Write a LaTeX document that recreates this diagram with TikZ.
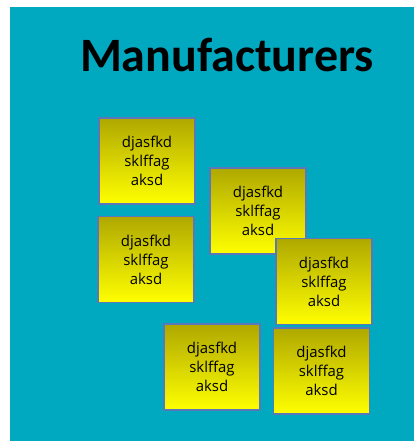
\documentclass[tikz,border=0pt]{standalone}
\usepackage{fontspec}
\setmainfont{Carlito}
\newfontfamily\notefont{Open Sans}
\usetikzlibrary{positioning}
\definecolor{board}{RGB}{0,168,192}
\definecolor{noteedge}{RGB}{90,120,185}
\definecolor{notetop}{RGB}{175,168,0}
\definecolor{notemid}{RGB}{228,224,0}
\definecolor{notebottom}{RGB}{255,255,0}

\begin{document}
\begin{tikzpicture}[x=0.02cm,y=-0.02cm,
   sticky/.style={draw=noteedge, line width=1.1pt, rectangle, top color=notetop, middle color=notemid, bottom color=notebottom,
      minimum width=1.92cm, minimum height=1.72cm, align=center, inner sep=0pt,
      font=\notefont\fontsize{8.5}{10.8}\selectfont}]

   \useasboundingbox (0,0) rectangle (414,441);
   \fill[board] (10,7) rectangle (414,441);

   \node[font=\bfseries\fontsize{27.3}{30}\selectfont] (title) at (227,55) {Manufacturers};

   \node[sticky] (note1) at (147,161) {djasfkd\\sklffag\\aksd};
   \node[sticky] (note2) at (146,259.5) {djasfkd\\sklffag\\aksd};
   \node[sticky] (note3) at (258,211) {djasfkd\\sklffag\\aksd};
   \node[sticky] (note4) at (324,281.5) {djasfkd\\sklffag\\aksd};
   \node[sticky] (note5) at (212,367) {djasfkd\\sklffag\\aksd};
   \node[sticky] (note6) at (321.5,371) {djasfkd\\sklffag\\aksd};

\end{tikzpicture}
\end{document}
